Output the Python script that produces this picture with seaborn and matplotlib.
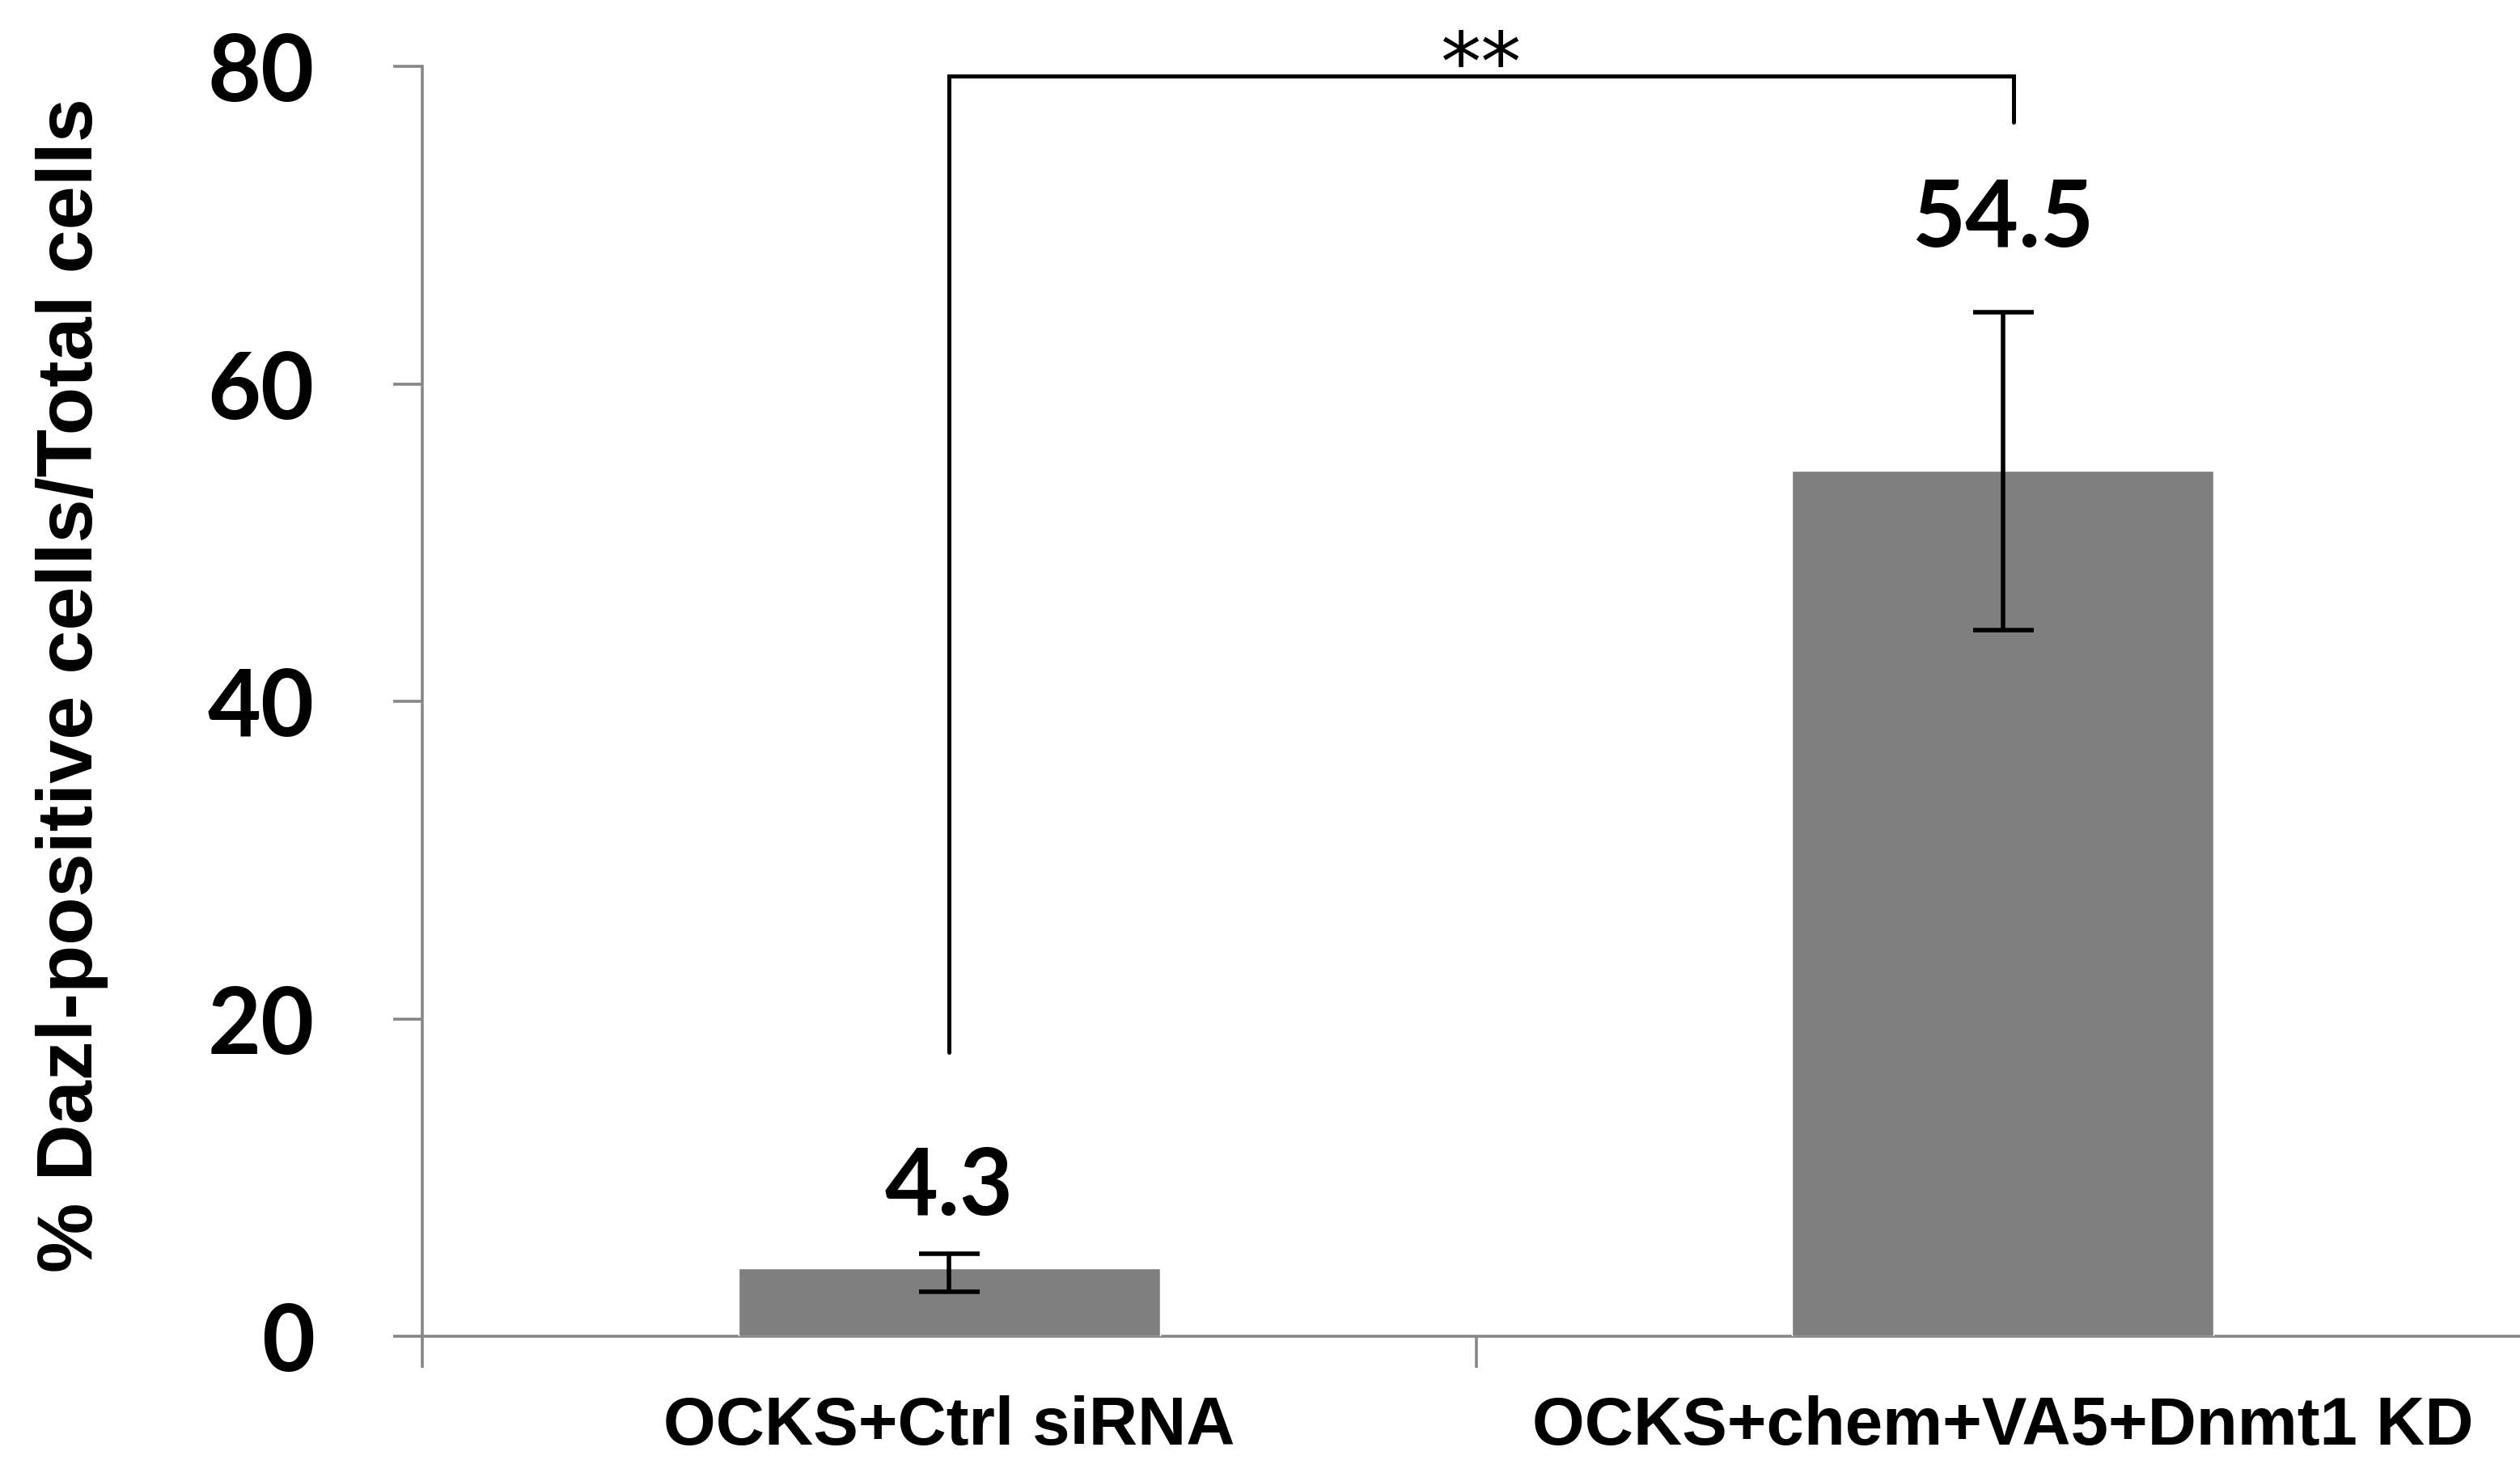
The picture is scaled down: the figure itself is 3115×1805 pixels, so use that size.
import matplotlib
matplotlib.use("Agg")
import matplotlib.pyplot as plt
import seaborn as sns
import pandas as pd

# ---- data ----
categories = ["OCKS+Ctrl siRNA", "OCKS+chem+VA5+Dnmt1 KD"]
values = [4.3, 54.5]
err_low = [1.5, 10.0]
err_high = [0.9, 10.0]
value_labels = ["4.3", "54.5"]
y_ticks = [0, 20, 40, 60, 80]
y_label = "% Dazl-positive cells/Total cells"
sig_text = "**"

# ---- style ----
sns.set_style("white")
plt.rcParams["font.family"] = ["Liberation Sans", "DejaVu Sans"]
plt.rcParams["text.color"] = "black"
plt.rcParams["xtick.color"] = "black"
plt.rcParams["ytick.color"] = "black"

BAR_COLOR = "#7f7f7f"
AXIS_COLOR = "#878787"
LABEL_GAP = [2.5, 4.2]  # space between error cap and value label

fig = plt.figure(figsize=(31.15, 18.06), dpi=100)
W, H = 3115, 1806
ax = fig.add_axes([522 / W, (H - 1653) / H, 2605 / W, 1570 / H])

df = pd.DataFrame({"group": categories, "pct": values})
sns.barplot(data=df, x="group", y="pct", color=BAR_COLOR, saturation=1,
            width=0.4, errorbar=None, ax=ax, zorder=3)

# error bars
ax.errorbar(range(len(values)), values, yerr=[err_low, err_high], fmt="none",
            ecolor="black", elinewidth=4, capsize=27, capthick=4, zorder=4)

ax.set_xlim(-0.5, len(categories) - 0.5)
ax.set_ylim(0, 80)

# axes styling
for side in ("top", "right"):
    ax.spines[side].set_visible(False)
for side in ("left", "bottom"):
    ax.spines[side].set_color(AXIS_COLOR)
    ax.spines[side].set_linewidth(2.6)

ax.set_yticks(y_ticks)
ax.set_yticklabels([str(t) for t in y_ticks], fontfamily="Lato",
                   fontweight="bold", fontsize=82, color="black")
ax.tick_params(axis="y", left=True, direction="out", length=26, width=2.6,
               color=AXIS_COLOR, pad=70, labelcolor="black")

# category boundaries get the visible ticks, labels sit under the bars
ax.set_xticks([i - 0.5 for i in range(len(categories) + 1)], minor=True)
ax.tick_params(axis="x", which="minor", bottom=True, direction="out",
               length=28, width=2.6, color=AXIS_COLOR)
ax.set_xticks(range(len(categories)))
ax.set_xticklabels(categories, fontsize=60, fontweight="bold", color="black")
ax.tick_params(axis="x", which="major", length=0, pad=52, labelcolor="black")
ax.set_xlabel("")
ax.set_ylabel("")

fig.text(89 / W, 1 - 847 / H, y_label, rotation=90, ha="center",
         va="center", fontsize=70, fontweight="bold", color="black")

# value labels above the error bars
for i, (v, e, lab) in enumerate(zip(values, err_high, value_labels)):
    ax.text(i, v + e + LABEL_GAP[i], lab, ha="center", va="baseline",
            fontfamily="Lato", fontweight="bold", fontsize=82, color="black",
            zorder=5)

# significance bracket
left_y, top_y, right_y = 17.9, 79.4, 76.5
ax.plot([0, 0, 1.01, 1.01], [left_y, top_y, top_y, right_y], color="black",
        lw=3.6, clip_on=False, zorder=5, solid_joinstyle="miter")
ax.text(0.505, 78.5, sig_text, ha="center", va="baseline",
        fontfamily="DejaVu Sans", fontsize=72, color="black",
        clip_on=False)

fig.savefig("out.png", dpi=100, facecolor="white")
